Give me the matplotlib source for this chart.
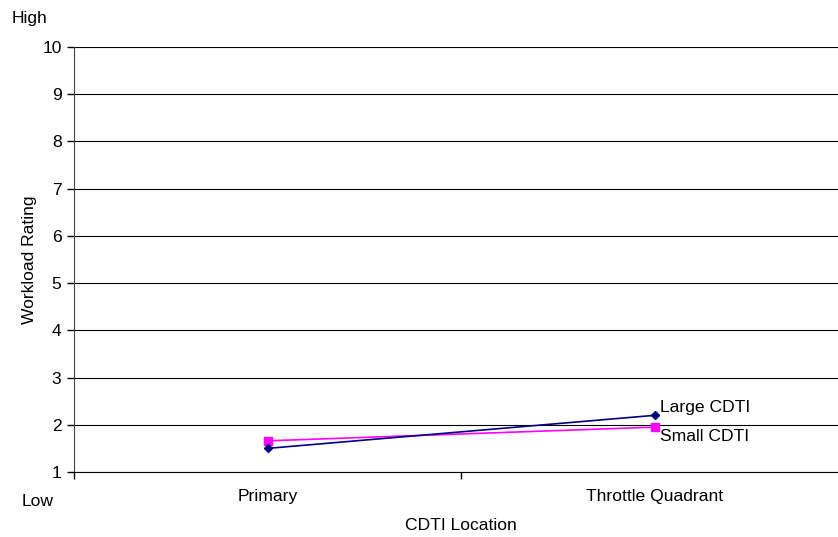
import matplotlib
matplotlib.use('Agg')
import matplotlib.pyplot as plt

plt.rcParams['font.family'] = ['Liberation Sans', 'DejaVu Sans']

# workload ratings per CDTI location
locations = ['Primary', 'Throttle Quadrant']
large_cdti = [1.5, 2.2]
small_cdti = [1.66, 1.95]

fs = 12.6
fig = plt.figure(figsize=(8.38, 5.37), dpi=100)
W, H = 838, 537
ax = fig.add_axes([74 / W, (H - 472) / H, (848 - 74) / W, (472 - 47) / H])

x = [0.5, 1.5]
ax.plot(x, small_cdti, color='#FF00FF', marker='s', markersize=6, lw=1.2, zorder=3)
ax.plot(x, large_cdti, color='#000080', marker='D', markersize=4, lw=1.2, zorder=4)

ax.text(x[1] + 0.015, large_cdti[1] + 0.01, 'Large CDTI', fontsize=fs, va='bottom', ha='left')
ax.text(x[1] + 0.015, small_cdti[1] - 0.04, 'Small CDTI', fontsize=fs, va='top', ha='left')

ax.set_xlim(0, 2)
ax.set_ylim(1, 10)
ax.set_yticks(range(1, 11))
ax.set_xticks([0, 1, 2])
ax.set_xticklabels([])
ax.set_xticks(x, minor=True)
ax.set_xticklabels(locations, minor=True, fontsize=fs)
ax.tick_params(axis='x', which='minor', length=0, pad=12)
ax.tick_params(axis='x', which='major', length=5, width=1, direction='out')
ax.tick_params(axis='y', length=5, width=1, direction='out', labelsize=fs, pad=4)
ax.yaxis.grid(True, color='black', lw=0.8)
ax.set_axisbelow(True)

for side in ['top', 'right']:
    ax.spines[side].set_visible(False)
ax.spines['left'].set_color('#444444')
ax.spines['bottom'].set_color('black')

ax.set_xlabel('CDTI Location', fontsize=fs, labelpad=10)
ax.set_ylabel('Workload Rating', fontsize=fs, labelpad=4)

fig.text(12 / W, 1 - 18 / H, 'High', fontsize=fs, va='center', ha='left')
fig.text(22 / W, 1 - 502 / H, 'Low', fontsize=fs, va='center', ha='left')

fig.savefig('out.png', dpi=100)
